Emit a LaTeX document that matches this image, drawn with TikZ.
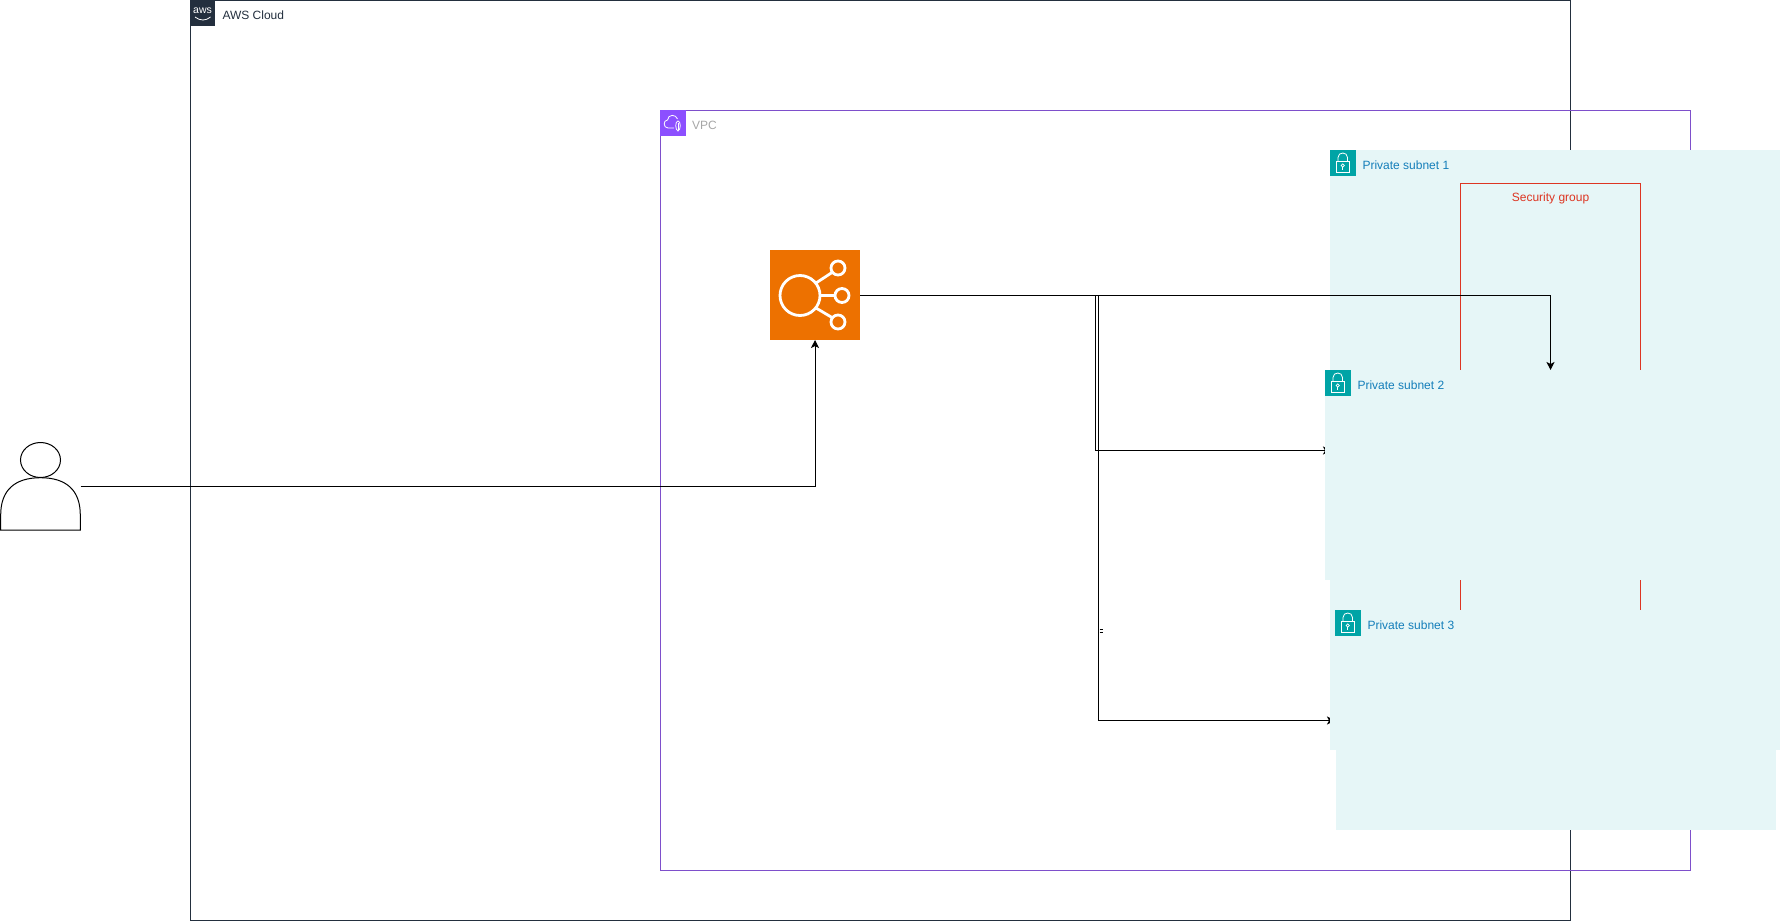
\documentclass[tikz,border=0pt]{standalone}
\usepackage{fontspec}
\setmainfont{Liberation Sans}
\usetikzlibrary{arrows.meta}
\definecolor{awsdark}{HTML}{232F3E}
\definecolor{vpcpurple}{HTML}{8C4FFF}
\definecolor{vpcline}{HTML}{7E4FCB}
\definecolor{subfill}{HTML}{E6F6F7}
\definecolor{subteal}{HTML}{00A4A6}
\definecolor{subtext}{HTML}{147EBA}
\definecolor{sgred}{HTML}{DD3522}
\definecolor{lborange}{HTML}{ED7100}
\tikzset{
  x=1pt,y=-1pt,
  every node/.style={inner sep=0pt,outer sep=0pt},
  box/.style={rectangle,anchor=north west,minimum width=#1},
  lbl/.style={anchor=west,font=\fontsize{12}{14}\selectfont},
  awsframe/.style={draw=awsdark,line width=1pt},
  vpcframe/.style={draw=vpcline,line width=1pt},
  subnetbox/.style={fill=subfill},
  subnetbadge/.style={fill=subteal,draw=none},
  sgframe/.style={draw=sgred,line width=1pt},
  flow/.style={draw=black,line width=1pt,-{Stealth[length=8pt,width=8pt,inset=2pt]}},
  iconline/.style={draw=white,line width=0.8pt},
  lbline/.style={draw=white,line width=2.8pt},
}
\newcommand{\lockicon}[2]{%
  \fill[subnetbadge] (#1,#2) rectangle ++(25.5,25.5);
  \draw[iconline] (#1+6,#2+11) rectangle ++(13.5,11.5);
  \draw[iconline] (#1+8,#2+11) -- (#1+8,#2+7.5) .. controls (#1+8,#2+1.5) and (#1+17.5,#2+1.5) .. (#1+17.5,#2+7.5) -- (#1+17.5,#2+11);
  \draw[iconline] (#1+12.75,#2+15.5) circle[radius=1.6];
  \draw[iconline] (#1+12.75,#2+17) -- (#1+12.75,#2+20);
}
\begin{document}
\begin{tikzpicture}
\useasboundingbox (0,0) rectangle (1782,921);
% AWS Cloud group
\node[box=1380pt,minimum height=920pt,awsframe] (aws) at (190.5,0.5) {};
\fill[awsdark] (190,0) rectangle (215,25.5);
\node[anchor=center,text=white,font=\fontsize{10.5}{10.5}\selectfont] (awslogo) at (202.5,10.5) {aws};
\draw[white,line width=0.8pt] (195,17) .. controls (200,21) and (206,21) .. (210.5,17);
\node[lbl,text=awsdark] (awstext) at (222.5,15) {AWS Cloud};
% VPC group
\node[box=1030pt,minimum height=760pt,vpcframe] (vpc) at (660.5,110.5) {};
\fill[vpcpurple] (660,110) rectangle (685.5,135.5);
\draw[iconline] (674,128) -- (668,128) .. controls (663,128) and (663,120) .. (667.5,120) .. controls (668,114) and (676,114) .. (677.5,119);
\draw[iconline] (678,121) .. controls (675,121) and (675,130) .. (678,131) .. controls (681,130) and (681,121) .. (678,121) -- cycle;
\draw[iconline] (678,122.5) -- (678,129.5);
\node[lbl,text=black!35] (vpctext) at (692,125) {VPC};
% Load balancer
\node[box=90pt,minimum height=90pt,fill=lborange] (lb) at (770,250) {};
\coordinate (lbout) at ([yshift=-0.5pt]lb.east);
\draw[lbline] (800,295.5) circle[radius=20];
\draw[lbline] (838,268) circle[radius=7];
\draw[lbline] (842,295.5) circle[radius=7];
\draw[lbline] (838,322) circle[radius=7];
\draw[lbline] (816,283) -- (832,272.5);
\draw[lbline] (820,295.5) -- (835,295.5);
\draw[lbline] (816,308) -- (832,317.5);
% User
\node[box=80pt,minimum height=88pt] (user) at (0.5,442.5) {};
\draw[black,line width=1pt] (40.5,460) ellipse[x radius=20,y radius=17.5];
\draw[black,line width=1pt] (0.7,530) -- (0.7,515) .. controls (0.7,490) and (15,477.7) .. (40.5,477.7) .. controls (66,477.7) and (80.3,490) .. (80.3,515) -- (80.3,530) -- cycle;
% Connectors
\draw[flow] (user.east) -| (lb.south);
\coordinate (j2a) at (1095.5,295.5);
\coordinate (j2b) at (1095.5,450.5);
\coordinate (t2) at (1331,450.5);
\draw[flow] (lbout) -- (j2a) -- (j2b) -- (t2);
\coordinate (j3a) at (1098,295.5);
\coordinate (j3b) at (1098,720.5);
\coordinate (t3) at (1335,720.5);
\draw[flow] (lbout) -- (j3a) -- (j3b) -- (t3);
\draw[black,line width=0.8pt] (1099.5,629.5) -- (1103,629.5) (1099.5,632) -- (1103,632);
% Subnet 1
\node[box=450pt,minimum height=600pt,subnetbox] (sub1) at (1330,150) {};
\lockicon{1330}{150}
\node[lbl,text=subtext] (sub1text) at (1362.5,165) {Private subnet 1};
% Security group
\node[box=180pt,minimum height=427pt,sgframe] (sg) at (1460.5,183) {};
\node[text=sgred,font=\fontsize{12}{14}\selectfont] (sgtext) at (1550.5,198) {Security group};
% Connector to subnet 1
\coordinate (j1) at (1550.5,295.5);
\coordinate (t1) at (1550.5,370);
\draw[flow] (lbout) -- (j1) -- (t1);
% Subnet 2
\node[box=455pt,minimum height=210pt,subnetbox] (sub2) at (1325,370) {};
\lockicon{1325}{370}
\node[lbl,text=subtext] (sub2text) at (1357.5,385) {Private subnet 2};
% Subnet 3
\node[box=440pt,minimum height=220pt,subnetbox] (sub3) at (1335.5,610) {};
\lockicon{1335}{610}
\node[lbl,text=subtext] (sub3text) at (1367.5,625) {Private subnet 3};
\end{tikzpicture}
\end{document}
